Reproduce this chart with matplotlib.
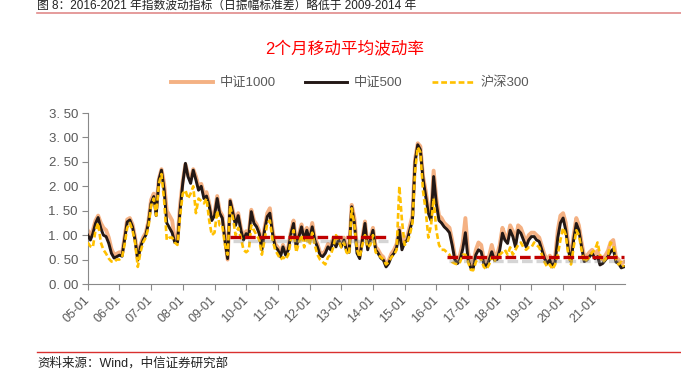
import matplotlib
matplotlib.use("Agg")
import matplotlib.pyplot as plt
import matplotlib.dates as mdates
import matplotlib.patheffects as pe
import pandas as pd

plt.rcParams['font.family'] = ['Liberation Sans', 'Noto Sans CJK SC', 'DejaVu Sans']

# 月度数据 2005-01 ... 2021-12
months = pd.date_range("2005-01-01", "2021-12-01", freq="MS")

zz1000 = [
    1.10, 1.00, 1.10, 1.30, 1.40, 1.25, 1.15, 1.10, 0.95, 0.72, 0.60, 0.62,
    0.65, 0.62, 0.95, 1.32, 1.35, 1.22, 0.95, 0.52, 0.80, 0.95, 1.05, 1.28,
    1.72, 1.85, 1.55, 2.15, 2.35, 2.05, 1.50, 1.40, 1.30, 0.90, 0.88, 1.62,
    2.10, 2.45, 2.25, 2.15, 2.35, 2.20, 2.00, 2.05, 1.85, 1.88, 1.65, 1.35,
    1.45, 1.80, 1.50, 1.40, 0.95, 0.50, 1.72, 1.50, 1.28, 1.45, 1.15, 0.95,
    1.08, 1.05, 1.52, 1.30, 1.22, 1.08, 0.75, 1.15, 1.45, 1.55, 1.10, 0.82,
    0.75, 0.62, 0.80, 0.65, 0.75, 1.08, 1.30, 0.80, 1.02, 1.22, 0.95, 1.15,
    0.95, 1.25, 0.95, 0.82, 0.65, 0.62, 0.68, 0.82, 0.75, 0.95, 0.82, 0.95,
    0.82, 0.95, 0.76, 0.70, 1.62, 1.35, 0.75, 0.58, 0.95, 1.28, 0.78, 0.95,
    1.15, 0.76, 0.70, 0.60, 0.55, 0.38, 0.48, 0.62, 0.70, 0.82, 1.15, 0.78,
    0.92, 0.98, 1.18, 1.40, 2.55, 2.88, 2.82, 2.20, 1.90, 1.55, 1.40, 2.32,
    1.75, 1.40, 1.35, 1.25, 1.20, 1.15, 0.90, 0.58, 0.50, 0.60, 0.85, 1.35,
    0.65, 0.40, 0.40, 0.70, 0.85, 0.80, 0.50, 0.42, 0.58, 0.80, 0.58, 0.60,
    0.80, 1.15, 1.00, 0.92, 1.20, 1.08, 0.85, 1.20, 1.15, 1.00, 0.85, 1.00,
    1.05, 1.05, 1.00, 0.95, 0.78, 0.60, 0.50, 0.58, 0.42, 0.55, 1.10, 1.40,
    1.45, 1.25, 0.80, 0.55, 1.00, 1.35, 1.20, 0.85, 0.55, 0.58, 0.65, 0.70,
    0.62, 0.68, 0.50, 0.52, 0.58, 0.68, 0.85, 0.90, 0.55, 0.50, 0.42, 0.45,
]

zz500 = [
    1.00, 0.90, 1.03, 1.24, 1.36, 1.14, 1.00, 0.97, 0.83, 0.63, 0.53, 0.56,
    0.59, 0.57, 0.90, 1.27, 1.31, 1.17, 0.90, 0.49, 0.76, 0.90, 1.00, 1.24,
    1.65, 1.79, 1.40, 2.13, 2.33, 1.92, 1.25, 1.15, 1.05, 0.85, 0.85, 1.50,
    2.06, 2.47, 2.20, 2.06, 2.33, 2.13, 1.92, 2.00, 1.75, 1.80, 1.60, 1.30,
    1.40, 1.75, 1.45, 1.35, 0.90, 0.52, 1.70, 1.45, 1.20, 1.40, 1.10, 0.90,
    1.03, 1.00, 1.48, 1.24, 1.17, 1.03, 0.70, 1.10, 1.38, 1.45, 1.03, 0.76,
    0.70, 0.56, 0.76, 0.59, 0.70, 1.03, 1.24, 0.75, 0.97, 1.17, 0.90, 1.10,
    0.90, 1.17, 0.90, 0.76, 0.59, 0.56, 0.63, 0.76, 0.70, 0.90, 0.76, 0.90,
    0.76, 0.90, 0.70, 0.65, 1.58, 1.25, 0.63, 0.52, 0.90, 1.24, 0.70, 0.90,
    1.10, 0.70, 0.63, 0.53, 0.49, 0.35, 0.42, 0.56, 0.63, 0.75, 1.10, 0.70,
    0.85, 0.90, 1.10, 1.30, 2.50, 2.85, 2.75, 2.15, 1.80, 1.45, 1.30, 2.20,
    1.65, 1.30, 1.25, 1.17, 1.12, 1.05, 0.80, 0.50, 0.42, 0.50, 0.72, 1.05,
    0.50, 0.33, 0.32, 0.60, 0.70, 0.66, 0.42, 0.35, 0.49, 0.66, 0.49, 0.50,
    0.70, 1.04, 0.90, 0.83, 1.10, 0.97, 0.76, 1.10, 1.04, 0.90, 0.76, 0.90,
    0.97, 0.97, 0.90, 0.87, 0.70, 0.52, 0.42, 0.49, 0.35, 0.45, 0.95, 1.25,
    1.35, 1.10, 0.70, 0.46, 0.90, 1.24, 1.10, 0.76, 0.46, 0.49, 0.56, 0.63,
    0.52, 0.56, 0.39, 0.42, 0.49, 0.56, 0.66, 0.72, 0.45, 0.42, 0.33, 0.35,
]

hs300 = [
    0.85, 0.77, 0.75, 1.10, 1.25, 0.85, 0.70, 0.62, 0.52, 0.46, 0.45, 0.50,
    0.50, 0.55, 0.80, 1.15, 1.25, 1.10, 0.85, 0.35, 0.65, 0.85, 0.95, 1.15,
    1.60, 1.75, 1.40, 2.05, 2.25, 1.70, 0.90, 0.95, 0.95, 0.85, 0.80, 1.38,
    1.85, 1.92, 1.75, 1.85, 2.00, 1.45, 1.75, 1.70, 1.65, 1.75, 1.30, 1.00,
    1.05, 1.50, 1.20, 1.20, 0.80, 0.60, 1.60, 1.35, 1.00, 1.15, 0.95, 0.70,
    0.65, 0.70, 1.20, 1.10, 1.00, 0.90, 0.60, 0.90, 1.25, 1.30, 0.90, 0.70,
    0.60, 0.50, 0.55, 0.50, 0.60, 0.90, 1.10, 0.65, 0.85, 1.00, 0.75, 1.00,
    0.80, 1.05, 0.80, 0.60, 0.50, 0.45, 0.40, 0.55, 0.60, 0.75, 1.00, 0.90,
    0.75, 0.85, 0.65, 0.60, 1.55, 1.20, 0.70, 0.55, 0.80, 1.00, 0.75, 0.80,
    1.00, 0.65, 0.60, 0.55, 0.50, 0.40, 0.45, 0.55, 0.60, 0.70, 2.00, 1.30,
    0.80, 0.85, 1.00, 1.25, 2.30, 2.80, 2.70, 1.90, 1.50, 0.95, 1.20, 1.75,
    1.10, 0.80, 0.70, 0.70, 0.65, 0.60, 0.45, 0.42, 0.40, 0.45, 0.60, 0.60,
    0.45, 0.29, 0.28, 0.45, 0.55, 0.50, 0.35, 0.30, 0.40, 0.55, 0.45, 0.60,
    0.60, 0.65, 0.70, 0.60, 0.75, 0.60, 0.70, 0.80, 0.85, 0.75, 0.70, 0.75,
    0.75, 0.85, 0.80, 0.75, 0.60, 0.45, 0.35, 0.40, 0.30, 0.40, 0.60, 0.90,
    1.15, 1.00, 0.60, 0.40, 0.75, 1.10, 1.00, 0.70, 0.45, 0.50, 0.55, 0.65,
    0.70, 0.85, 0.60, 0.45, 0.50, 0.60, 0.85, 0.80, 0.50, 0.40, 0.45, 0.35,
]

# 两段均值 (红色虚线)
avg_starts = ["2009-06-27", "2016-04-29"]
avg_ends = ["2014-05-27", "2021-12-05"]
avg_levels = [0.96, 0.55]

yticks = [0, 0.5, 1.0, 1.5, 2.0, 2.5, 3.0, 3.5]

fig = plt.figure(figsize=(6.81, 3.71), dpi=100)
ax = fig.add_axes([0.1288, 0.2345, 0.7897, 0.4609])

ax.plot(months, zz1000, color="#F4B183", lw=2.8, label="中证1000", zorder=2)
ax.plot(months, zz500, color="#231815", lw=2.1, label="中证500", zorder=3)
ax.plot(months, hs300, color="#FFC000", lw=1.9, dashes=(2.2, 1.1), label="沪深300", zorder=4)

for s, e, v in zip(avg_starts, avg_ends, avg_levels):
    ax.plot([pd.Timestamp(s), pd.Timestamp(e)], [v, v], color="#C00000", lw=2.4,
            dashes=(3.2, 1.15), solid_capstyle="butt", zorder=5,
            path_effects=[pe.SimpleLineShadow(offset=(2, -3), shadow_color="#888888", alpha=0.35),
                          pe.Normal()])

ax.set_ylim(0, 3.5)
ax.set_xlim(pd.Timestamp("2005-01-01"), pd.Timestamp("2021-12-20"))
ax.set_yticks(yticks)
ax.set_yticklabels([f"{v:.2f}".replace(".", ". ") for v in yticks], fontsize=9.5, color="#595959")
ax.xaxis.set_major_locator(mdates.YearLocator())
ax.xaxis.set_major_formatter(mdates.DateFormatter("%y-%m"))
for lab in ax.get_xticklabels():
    lab.set_rotation(45)
    lab.set_ha("right")
    lab.set_va("center")
    lab.set_rotation_mode("anchor")
    lab.set_fontsize(9)
    lab.set_color("#595959")

for side in ["top", "right"]:
    ax.spines[side].set_visible(False)
for side in ["left", "bottom"]:
    ax.spines[side].set_color("#898989")
ax.tick_params(axis="both", direction="out", length=4, color="#898989")
ax.tick_params(axis="x", pad=6)
ax.tick_params(axis="y", pad=3)

ax.legend(loc="center", bbox_to_anchor=(350 / 681, 1 - 83 / 371), bbox_transform=fig.transFigure,
          ncol=3, frameon=False, fontsize=9.5, handlelength=3.2, columnspacing=2.2,
          handletextpad=0.5, labelcolor="#595959")

fig.text(345 / 681, 1 - 49 / 371, "2个月移动平均波动率", color="#FF0000", fontsize=12,
         ha="center", va="center")

# 页眉和页脚
fig.text(37 / 681, 1 - 6 / 371, "图 8：2016-2021 年指数波动指标（日振幅标准差）略低于 2009-2014 年",
         fontsize=8.5, color="#222222", ha="left", va="center")
fig.add_artist(plt.Line2D([37 / 681, 1], [1 - 13 / 371, 1 - 13 / 371], color="#E08A8A", lw=1.2))
fig.add_artist(plt.Line2D([37 / 681, 1], [1 - 352 / 371, 1 - 352 / 371], color="#D9302F", lw=1.0))
fig.text(37 / 681, 1 - 363 / 371, "资料来源：Wind，中信证券研究部", fontsize=9, color="#222222",
         ha="left", va="center")

fig.savefig("out.png", dpi=100)
